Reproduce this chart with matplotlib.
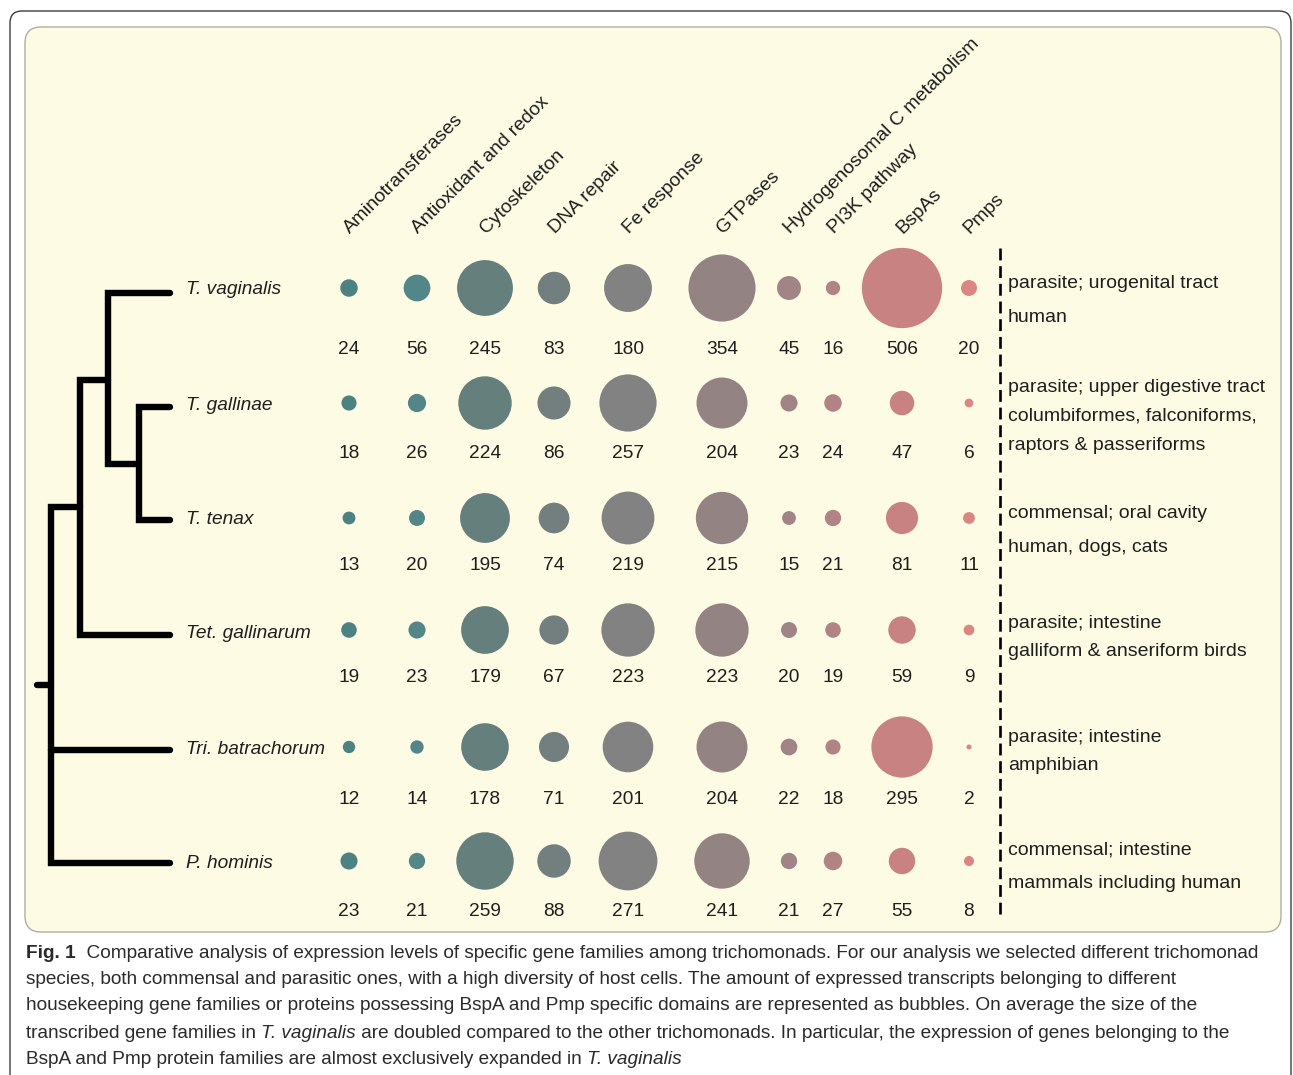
import matplotlib
matplotlib.use("Agg")
import matplotlib.pyplot as plt
from matplotlib.patches import FancyBboxPatch
import numpy as np

# ---------------- data ----------------
species = ["T. vaginalis", "T. gallinae", "T. tenax", "Tet. gallinarum",
           "Tri. batrachorum", "P. hominis"]
families = ["Aminotransferases", "Antioxidant and redox", "Cytoskeleton",
            "DNA repair", "Fe response", "GTPases", "Hydrogenosomal C metabolism",
            "PI3K pathway", "BspAs", "Pmps"]
t_vaginalis = [24, 56, 245, 83, 180, 354, 45, 16, 506, 20]
t_gallinae = [18, 26, 224, 86, 257, 204, 23, 24, 47, 6]
t_tenax = [13, 20, 195, 74, 219, 215, 15, 21, 81, 11]
tet_gallinarum = [19, 23, 179, 67, 223, 223, 20, 19, 59, 9]
tri_batrachorum = [12, 14, 178, 71, 201, 204, 22, 18, 295, 2]
p_hominis = [23, 21, 259, 88, 271, 241, 21, 27, 55, 8]
counts = [t_vaginalis, t_gallinae, t_tenax, tet_gallinarum, tri_batrachorum, p_hominis]
hosts = [
    ["parasite; urogenital tract", "human"],
    ["parasite; upper digestive tract", "columbiformes, falconiforms,",
     "raptors & passeriforms"],
    ["commensal; oral cavity", "human, dogs, cats"],
    ["parasite; intestine", "galliform & anseriform birds"],
    ["parasite; intestine", "amphibian"],
    ["commensal; intestine", "mammals including human"],
]
caption_lines = [
    [("Fig. 1", "bold"), ("  Comparative analysis of expression levels of specific gene families among trichomonads. For our analysis we selected different trichomonad", "normal")],
    [("species, both commensal and parasitic ones, with a high diversity of host cells. The amount of expressed transcripts belonging to different", "normal")],
    [("housekeeping gene families or proteins possessing BspA and Pmp specific domains are represented as bubbles. On average the size of the", "normal")],
    [("transcribed gene families in ", "normal"), ("T. vaginalis", "italic"), (" are doubled compared to the other trichomonads. In particular, the expression of genes belonging to the", "normal")],
    [("BspA and Pmp protein families are almost exclusively expanded in ", "normal"), ("T. vaginalis", "italic")],
]

# ---------------- layout / style ----------------
W, H = 1293, 1075
col_x = [349, 417, 485, 554, 628, 722, 789, 833, 902, 969]
row_y = [288, 403, 518, 630, 747, 861]
num_y = [349, 454, 566, 678, 799, 912]
label_y = [290, 405, 520, 633, 749, 863]
host_y = [[283, 318], [388, 416, 445], [513, 547], [623, 651], [737, 765], [850, 884]]
col_colors = ["#4d8283", "#538688", "#657f7d", "#737f7e", "#828282",
              "#948383", "#a08486", "#b28384", "#c88282", "#dc8585"]
size_scale = 6.6  # points^2 per unit (area proportional to value)
txt_col = "#1e1e1e"
sans = ["Liberation Sans", "DejaVu Sans"]
narrow = ["Liberation Sans Narrow", "Liberation Sans", "DejaVu Sans"]

fig = plt.figure(figsize=(W / 100, H / 100), dpi=100)
fig.patch.set_facecolor("white")
ax = fig.add_axes([0, 0, 1, 1])
ax.set_xlim(0, W)
ax.set_ylim(H, 0)
ax.axis("off")

# outer frame and panel
ax.add_patch(FancyBboxPatch((10, 11), 1281, 1100, boxstyle="round,pad=0,rounding_size=12",
                            fc="white", ec="#3c3c3c", lw=1.0, zorder=0))
ax.add_patch(FancyBboxPatch((25, 27), 1256, 905, boxstyle="round,pad=0,rounding_size=16",
                            fc="#fdfbe3", ec="#aeaea6", lw=1.0, zorder=1))

# tree
tree_lw = 4.6
def seg(xs, ys):
    ax.plot(xs, ys, color="black", lw=tree_lw, solid_capstyle="round",
            solid_joinstyle="miter", zorder=3)
leaf_end = 170
seg([leaf_end, 108, 108, 139], [293, 293, 464, 464])
seg([leaf_end, 139, 139, leaf_end], [407, 407, 520, 520])
seg([108, 80, 80, leaf_end], [380, 380, 635, 635])
seg([80, 51, 51, leaf_end], [507, 507, 863, 863])
seg([51, leaf_end], [750, 750])
seg([37, 51], [685, 685])

for sp, y in zip(species, label_y):
    ax.text(186, y, sp, style="italic", fontsize=13.8, family=sans, color=txt_col,
            ha="left", va="center", zorder=4)

# column headers
for fam, x in zip(families, col_x):
    ax.text(x + 1, 234, fam, rotation=45, rotation_mode="anchor", ha="left",
            va="baseline", fontsize=13.9, family=sans, color=txt_col, zorder=4)

# bubbles + numbers
for r, (vals, y, ny) in enumerate(zip(counts, row_y, num_y)):
    vals = np.asarray(vals, dtype=float)
    ax.scatter(col_x, [y] * len(col_x), s=vals * size_scale, c=col_colors,
               edgecolors="none", zorder=4)
    for x, v in zip(col_x, vals):
        ax.text(x, ny, f"{int(v)}", ha="center", va="center", fontsize=13.8,
                family=narrow, color=txt_col, zorder=4)

# dashed separator
ax.plot([1000, 1000], [248, 915], color="black", lw=1.9, dashes=(4.5, 2.2), zorder=3)

for lines, ys in zip(hosts, host_y):
    for t, y in zip(lines, ys):
        ax.text(1008, y, t, ha="left", va="center", fontsize=14, family=sans,
                color=txt_col, zorder=4)

# caption with mixed styles
fig.canvas.draw()
renderer = fig.canvas.get_renderer()

def draw_runs(parts, x0, y, size):
    x = x0
    arts = []
    for txt, sty in parts:
        kw = dict(fontsize=size, family=narrow, color="#2a2a2a", ha="left",
                  va="center", zorder=4)
        if sty == "bold":
            kw["fontweight"] = "bold"
        elif sty == "italic":
            kw["style"] = "italic"
        t = ax.text(x, y, txt, **kw)
        bb = t.get_window_extent(renderer)
        x += bb.width
        arts.append(t)
    return x, arts

# fit first line width
end, arts = draw_runs(caption_lines[0], 26, 952, 12)
scale = (1270 - 26) / (end - 26)
for a in arts:
    a.remove()
cap_size = 12 * scale
cap_y = [953, 980, 1006, 1033, 1060]
for parts, y in zip(caption_lines, cap_y):
    draw_runs(parts, 26, y, cap_size)

fig.savefig("out.png", dpi=100, facecolor="white")
